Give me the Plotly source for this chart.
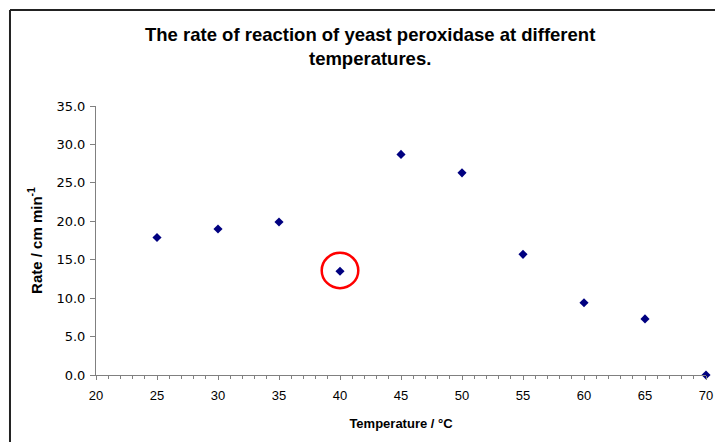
import plotly.graph_objects as go

temperature = [25, 30, 35, 40, 45, 50, 55, 60, 65, 70]
rate = [17.9, 19.0, 19.9, 13.5, 28.7, 26.3, 15.7, 9.4, 7.3, 0.0]

# the anomalous reading that is ringed in red
outlier_x = 40
outlier_y = 13.6

font = "Liberation Sans, Arial, sans-serif"
wide_font = "DejaVu Sans, Verdana, sans-serif"

fig = go.Figure()
fig.add_trace(go.Scatter(
    x=temperature, y=rate, mode="markers",
    marker=dict(symbol="diamond", color="#000080", size=7),
    showlegend=False, cliponaxis=False
))

fig.add_shape(
    type="circle", xref="x", yref="y",
    x0=outlier_x - 1.5, x1=outlier_x + 1.5,
    y0=outlier_y - 2.3, y1=outlier_y + 2.3,
    line=dict(color="#ff0000", width=2.5)
)

# outer chart frame (only top and left edges visible)
fig.add_shape(type="line", xref="paper", yref="paper",
              x0=-0.141, x1=1.1, y0=1.357, y1=1.357,
              line=dict(color="#222222", width=2))
fig.add_shape(type="line", xref="paper", yref="paper",
              x0=-0.141, x1=-0.141, y0=1.357, y1=-0.3,
              line=dict(color="#222222", width=2))

fig.add_annotation(
    text="<b>The rate of reaction of yeast peroxidase at different<br>temperatures.</b>",
    xref="paper", yref="paper", x=0.449, y=1.221, xanchor="center", yanchor="middle",
    showarrow=False, font=dict(family=font, size=18.5, color="black")
)

fig.update_xaxes(
    range=[20, 70], dtick=5, tick0=20,
    showgrid=False, zeroline=False,
    showline=True, linecolor="#808080", linewidth=1,
    ticks="outside", ticklen=4, tickcolor="#808080",
    minor=dict(dtick=1, ticks="outside", ticklen=3, tickcolor="#808080"),
    tickfont=dict(family=font, size=13, color="black"), ticklabelstandoff=4,
    ticklabeloverflow="allow", automargin=False,
    title=dict(text="<b>Temperature / °C</b>", font=dict(family=font, size=13, color="black"), standoff=17)
)
fig.update_yaxes(
    range=[0, 35], dtick=5, tickformat=".1f",
    showgrid=False, zeroline=False,
    showline=True, linecolor="#808080", linewidth=1,
    ticks="outside", ticklen=5, tickcolor="#808080",
    tickfont=dict(family=wide_font, size=13, color="black"), ticklabelstandoff=2,
    title=dict(text="<b>Rate / cm min<sup>-1</sup></b>", font=dict(family=font, size=15, color="black"), standoff=10)
)

fig.update_layout(
    width=715, height=442,
    margin=dict(l=96, r=9, t=106, b=67),
    paper_bgcolor="white", plot_bgcolor="white",
)

# drop the default body margin so the figure fills the window exactly
fig.write_html(
    "out.html",
    config={"displayModeBar": False},
    post_script="document.body.style.margin='0';document.body.style.overflow='hidden';",
)
